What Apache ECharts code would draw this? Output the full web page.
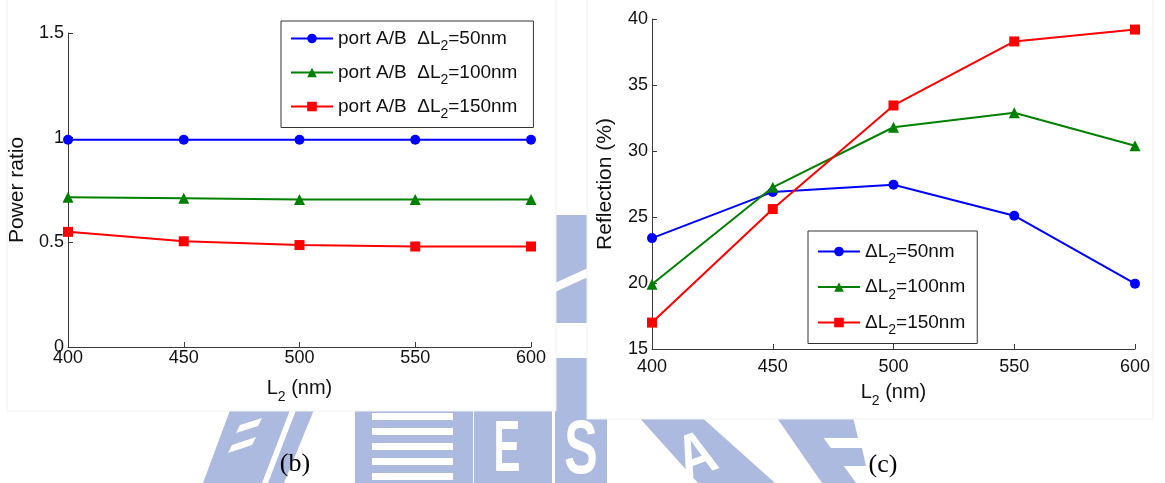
<!DOCTYPE html>
<html><head><meta charset="utf-8">
<script src="https://cdn.jsdelivr.net/npm/echarts@6/dist/echarts.min.js"></script>
<style>html,body{margin:0;padding:0;background:#fff}#c{width:1165px;height:483px}</style>
</head><body><div id="c"></div>
<script>
// ---- data ----
const lengthsL2 = [400, 450, 500, 550, 600];
const powerTicks = { min: 0, max: 1.5, step: 0.5 };
const reflTicks = { min: 15, max: 40, step: 5 };
const powerNames = ['port A/B  ΔL2=50nm', 'port A/B  ΔL2=100nm', 'port A/B  ΔL2=150nm'];
const power50 = [0.99, 0.99, 0.99, 0.99, 0.99];
const power100 = [0.715, 0.71, 0.705, 0.705, 0.705];
const power150 = [0.55, 0.505, 0.487, 0.48, 0.48];
const reflNames = ['ΔL2=50nm', 'ΔL2=100nm', 'ΔL2=150nm'];
const refl50 = [23.4, 26.9, 27.45, 25.1, 19.95];
const refl100 = [19.9, 27.25, 31.8, 32.9, 30.4];
const refl150 = [17.0, 25.6, 33.45, 38.3, 39.2];
const captions = ['(b)', '(c)'];

// ---- style ----
const FONT = 'Liberation Sans, Arial, sans-serif';
const INK = '#111';
const AX = '#3a3a3a';
const colors = ['#0000ff', '#008000', '#ff0000'];
const symbols = ['circle', 'triangle', 'rect'];
const sizes = [10, 11, 10];
const WM = '#adbadf';

function pairs(ys) { return lengthsL2.map((x, i) => [x, ys[i]]); }
function subFmt(name) {
  const i = name.indexOf('L2');
  return '{m|' + name.slice(0, i + 1) + '}{s|2}{m|' + name.slice(i + 2) + '}';
}
const legendRich = {
  m: { fontSize: 19, lineHeight: 30, fontFamily: FONT, color: INK },
  s: { fontSize: 14, lineHeight: 14, verticalAlign: 'bottom', fontFamily: FONT, color: INK }
};
const nameRich = {
  m: { fontSize: 20, lineHeight: 32, fontFamily: FONT, color: INK },
  s: { fontSize: 14, lineHeight: 8, verticalAlign: 'bottom', fontFamily: FONT, color: INK }
};
function xAx(gi, margin, gap) {
  return {
    type: 'value', gridIndex: gi, min: 400, max: 600, interval: 50,
    name: '{m|L}{s|2}{m| (nm)}', nameLocation: 'middle', nameGap: gap,
    nameTextStyle: { rich: nameRich },
    axisLine: { show: true, lineStyle: { color: AX, width: 1 } },
    axisTick: { show: true, inside: true, length: 5, lineStyle: { color: AX } },
    axisLabel: { fontSize: 18, fontFamily: FONT, color: INK, margin: margin },
    splitLine: { show: false }
  };
}
function yAx(gi, t, name, gap) {
  return {
    type: 'value', gridIndex: gi, min: t.min, max: t.max, interval: t.step,
    name: name, nameLocation: 'middle', nameGap: gap,
    nameTextStyle: { fontSize: 21, fontFamily: FONT, color: INK },
    axisLine: { show: true, lineStyle: { color: AX, width: 1 } },
    axisTick: { show: true, inside: true, length: 5, lineStyle: { color: AX } },
    axisLabel: { fontSize: 18, fontFamily: FONT, color: INK, margin: 4 },
    splitLine: { show: false }
  };
}
function ser(name, ys, k, gi) {
  return {
    type: 'line', name: name, xAxisIndex: gi, yAxisIndex: gi, data: pairs(ys),
    symbol: symbols[k], symbolSize: sizes[k], showSymbol: true,
    lineStyle: { color: colors[k], width: 2 },
    itemStyle: { color: colors[k] },
    z: 3
  };
}
function legend(names, left, top, gap, pad) {
  return {
    data: names, orient: 'vertical', left: left, top: top,
    itemWidth: 42, itemHeight: 12, itemGap: gap, padding: pad,
    borderColor: '#333', borderWidth: 1, backgroundColor: '#fff',
    formatter: subFmt, textStyle: { rich: legendRich }, selectedMode: false
  };
}

// ---- watermark (background decoration) ----
const wm = [];
function poly(pts, fill) { wm.push({ type: 'polygon', shape: { points: pts }, style: { fill: fill }, z: -3, silent: true }); }
function rect(x, y, w, h, fill) { wm.push({ type: 'rect', shape: { x: x, y: y, width: w, height: h }, style: { fill: fill }, z: -3, silent: true }); }
function wtext(t, x, y, size, sx, rot) {
  wm.push({ type: 'text', x: x, y: y, scaleX: sx, rotation: rot || 0, z: -3, silent: true,
    style: { text: t, fill: '#fff', font: 'bold ' + size + 'px ' + FONT, align: 'center', verticalAlign: 'middle', textAlign: 'center', textVerticalAlign: 'middle' } });
}
// slash
poly([[232, 405], [316, 405], [284, 483], [203, 483]], WM);
poly([[240, 425], [262, 418], [258, 426], [236, 433]], '#fff');
poly([[232, 445], [256, 437], [252, 445], [228, 453]], '#fff');
poly([[292, 405], [298, 405], [268, 483], [262, 483]], '#fff');
// stripes block
rect(355, 405, 118, 78, WM);
for (let y = 413; y < 483; y += 15) rect(372, y, 81, 7, '#fff');
// E block
rect(474, 405, 78, 78, WM);
wtext('E', 507, 451, 72, 0.56);
// vertical bar + S block
rect(555, 215, 33, 108, WM);
poly([[555, 283], [588, 268], [588, 277], [555, 292]], '#fff');
rect(555, 358, 33, 125, WM);
rect(555, 405, 52, 78, WM);
wtext('S', 581, 452, 76, 0.66);
// A slab
poly([[628, 405], [688, 405], [775, 483], [698, 483]], WM);
wtext('A', 697, 458, 62, 0.85, 0.35);
// right E-shape
poly([[768, 405], [800, 405], [856, 483], [822, 483]], WM);
poly([[795, 405], [850, 405], [858, 438], [808, 438]], WM);
poly([[818, 448], [862, 448], [866, 466], [832, 466]], WM);

// panels that hide the watermark
const panels = [
  { type: 'rect', shape: { x: 7, y: -1, width: 549, height: 412 }, style: { fill: '#fff', stroke: '#f1f1f1' }, z: -2, silent: true },
  { type: 'rect', shape: { x: 587, y: -1, width: 566, height: 420 }, style: { fill: '#fff', stroke: '#f1f1f1' }, z: -2, silent: true }
];
const caps = [
  { type: 'text', x: 295, y: 464, z: 5, style: { text: captions[0], fill: '#000', font: '26px Liberation Serif, serif', align: 'center', verticalAlign: 'middle', textAlign: 'center', textVerticalAlign: 'middle' } },
  { type: 'text', x: 883, y: 465, z: 5, style: { text: captions[1], fill: '#000', font: '26px Liberation Serif, serif', align: 'center', verticalAlign: 'middle', textAlign: 'center', textVerticalAlign: 'middle' } }
];

const chart = echarts.init(document.getElementById('c'), null, { renderer: 'canvas' });
chart.setOption({
  animation: false,
  backgroundColor: '#fff',
  graphic: { elements: wm.concat(panels, caps) },
  grid: [
    { left: 68, right: 1165 - 531, top: 33, bottom: 483 - 347 },
    { left: 652, right: 1165 - 1135, top: 19, bottom: 483 - 349 }
  ],
  xAxis: [xAx(0, 2, 25), xAx(1, 9, 27)],
  yAxis: [yAx(0, powerTicks, 'Power ratio', 40), yAx(1, reflTicks, 'Reflection (%)', 36)],
  legend: [
    legend(powerNames, 281, 21, 9.5, [8, 16, 6, 9]),
    legend(reflNames, 808, 231, 11, [11, 12, 6, 9])
  ],
  series: [
    ser(powerNames[0], power50, 0, 0),
    ser(powerNames[1], power100, 1, 0),
    ser(powerNames[2], power150, 2, 0),
    ser(reflNames[0], refl50, 0, 1),
    ser(reflNames[1], refl100, 1, 1),
    ser(reflNames[2], refl150, 2, 1)
  ]
});
</script></body></html>
